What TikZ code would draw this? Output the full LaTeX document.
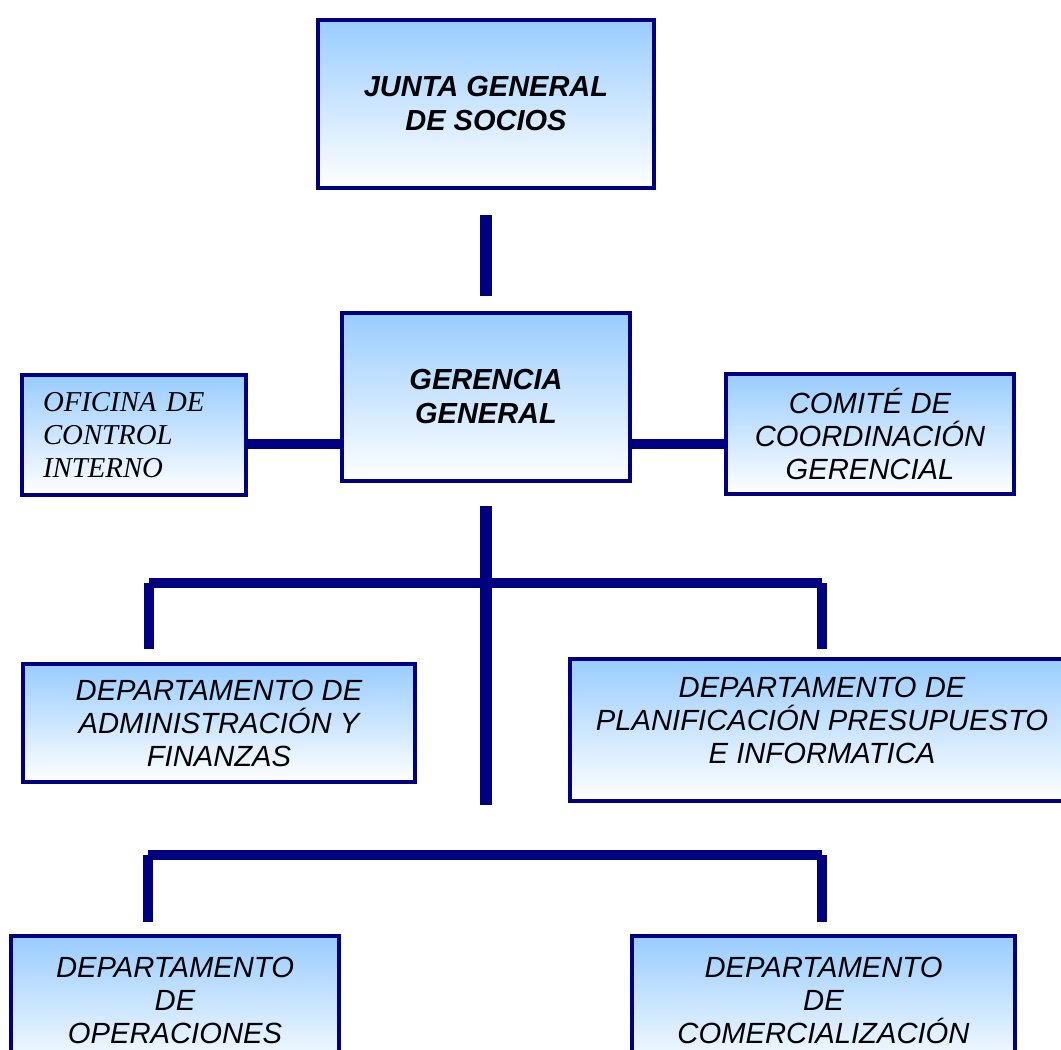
\documentclass[tikz,border=0pt]{standalone}
\usepackage{fontspec}
\setmainfont{Liberation Sans}
\newfontfamily\timesit{Liberation Serif}
\definecolor{navy}{RGB}{0,0,128}
\definecolor{boxtop}{RGB}{153,204,255}
\begin{document}
\begin{tikzpicture}[x=1pt,y=-1pt,
  box/.style={draw=navy, line width=4pt, top color=boxtop, bottom color=white,
    align=center, inner sep=0pt, outer sep=0pt,
    font=\fontsize{29.2}{33}\selectfont\itshape},
  boldbox/.style={box, font=\fontsize{29}{34}\selectfont\bfseries\itshape},
  serifbox/.style={box, align=left, font=\timesit\fontsize{28.8}{33}\selectfont\itshape},
  link/.style={navy, line width=10pt},
  trunk/.style={navy, line width=12.5pt}]
\useasboundingbox (0,0) rectangle (1061,1050);
\clip (0,0) rectangle (1061,1050);
\fill[white] (0,0) rectangle (1061,1050);

% boxes
\node[boldbox, minimum width=336pt, minimum height=168pt] (junta) at (486,104) {JUNTA GENERAL\\DE SOCIOS};
\node[boldbox, minimum width=288pt, minimum height=168pt] (ger) at (486,397) {GERENCIA\\GENERAL};
\node[serifbox, minimum width=224pt, minimum height=120pt, text width=182pt] (ofi) at (134,435) {OFICINA DE\\CONTROL\\INTERNO};
\node[box, minimum width=288pt, minimum height=120pt] (com) at (870,434) {COMITÉ DE\\COORDINACIÓN\\GERENCIAL};
\node[box, minimum width=392pt, minimum height=118pt, text depth=-4pt] (adm) at (219,723) {DEPARTAMENTO DE\\ADMINISTRACIÓN Y\\FINANZAS};
\node[box, minimum width=504pt, minimum height=142pt, text depth=20pt] (pla) at (822,730) {DEPARTAMENTO DE\\PLANIFICACIÓN PRESUPUESTO\\E INFORMATICA};
\node[box, minimum width=328pt, minimum height=140pt, text depth=12pt] (ops) at (175,1006) {DEPARTAMENTO\\DE\\OPERACIONES};
\node[box, minimum width=383pt, minimum height=140pt, text depth=12pt] (cmz) at (823.5,1006) {DEPARTAMENTO\\DE\\COMERCIALIZACIÓN};

% coordinates
\coordinate (yl) at (0,444);
\coordinate (tend) at (486,805);
\coordinate (b1l) at (149,583);
\coordinate (b1r) at (822,583);
\coordinate (d1l) at (149,649);
\coordinate (d1r) at (822,649);
\coordinate (b2l) at (148,855);
\coordinate (b2r) at (822,855);
\coordinate (d2l) at (148,922);
\coordinate (d2r) at (822,922);

% connectors
\draw[trunk] ([yshift=-27pt]junta.south) -- ([yshift=17pt]ger.north);
\draw[link] (ofi.east |- yl) -- (ger.west |- yl);
\draw[link] (ger.east |- yl) -- (com.west |- yl);
\draw[trunk] ([yshift=-25pt]ger.south) -- (tend);
\draw[link] (b1l) -- (b1r);
\draw[link] (b1l) -- (d1l);
\draw[link] (b1r) -- (d1r);
\draw[link] (b2l) -- (b2r);
\draw[link] (b2l) -- (d2l);
\draw[link] (b2r) -- (d2r);
\end{tikzpicture}
\end{document}
